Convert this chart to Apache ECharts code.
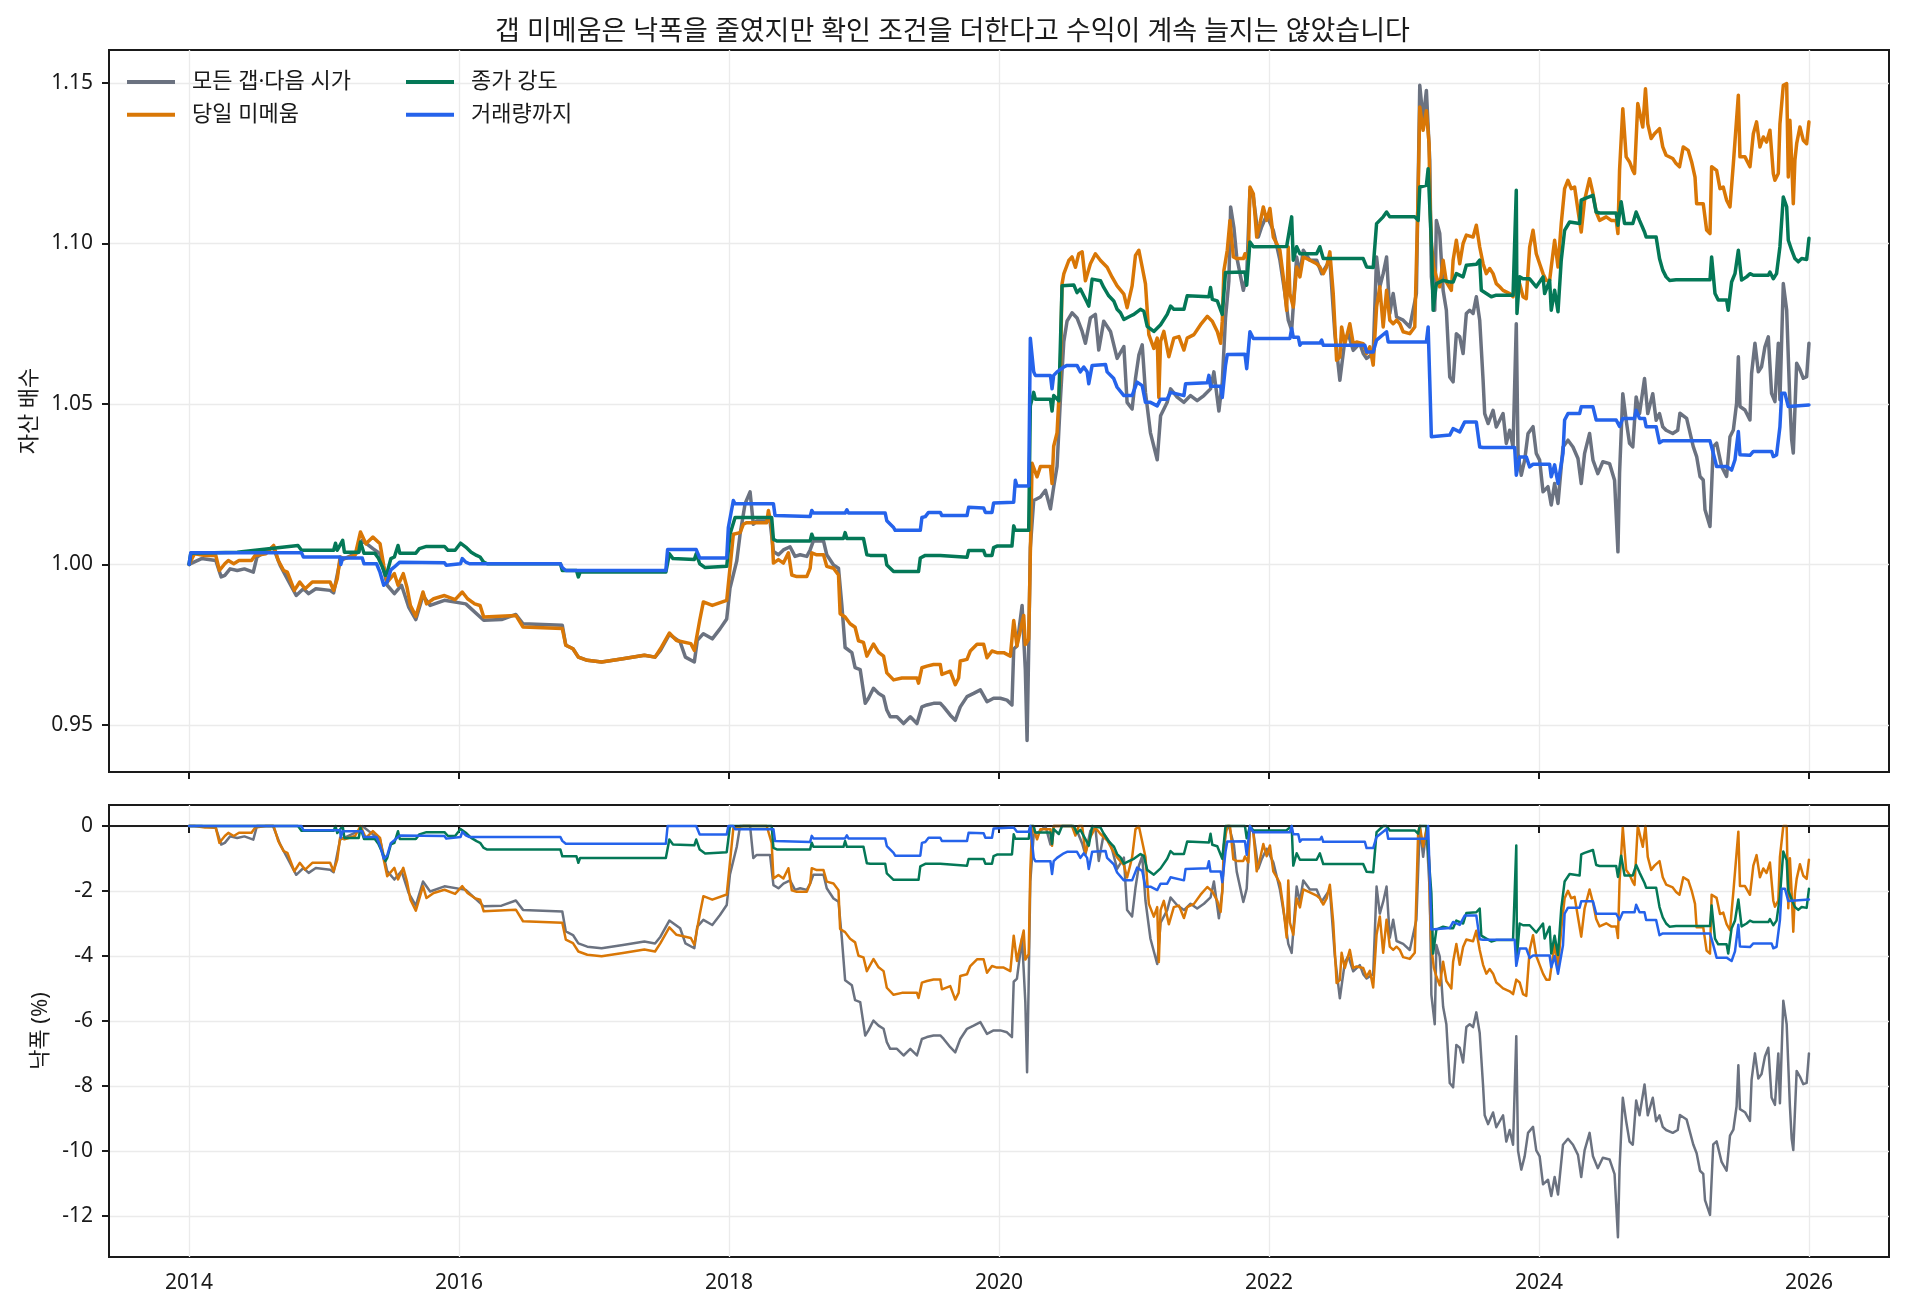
<!DOCTYPE html>
<html>
<head>
<meta charset="utf-8">
<script src="https://cdn.jsdelivr.net/npm/echarts@6/dist/echarts.min.js"></script>
<style>
  html, body { margin: 0; padding: 0; background: #fff; }
  #chart { width: 1905px; height: 1311px; }
</style>
</head>
<body>
<div id="chart"></div>
<script>
// 시리즈 이름
var seriesNames = ['모든 갭·다음 시가', '당일 미메움', '종가 강도', '거래량까지'];
var seriesColors = ['#6b7280', '#d97706', '#047857', '#2563eb'];

// 눈금
var yearTicks = [2014, 2016, 2018, 2020, 2022, 2024, 2026];
var equityTicks = [0.95, 1.00, 1.05, 1.10, 1.15];
var drawdownTicks = [-12, -10, -8, -6, -4, -2, 0];

// 자산 배수 [연도, 값]
var gapAll = [
  [2014.000,1.0000],[2014.093,1.0018],[2014.198,1.0012],[2014.238,0.9961],[2014.265,0.9966],[2014.304,0.9986],[2014.357,0.9981],[2014.410,0.9986],[2014.476,0.9976],[2014.503,1.0023],[2014.622,1.0054],[2014.675,0.9997],[2014.728,0.9955],[2014.794,0.9903],[2014.847,0.9924],[2014.886,0.9909],[2014.939,0.9924],[2015.045,0.9919],[2015.071,0.9911],[2015.119,1.0012],[2015.257,1.0038],[2015.283,1.0075],[2015.362,1.0049],[2015.415,1.0033],[2015.468,0.9935],[2015.521,0.9909],[2015.574,0.9935],[2015.627,0.9867],[2015.680,0.9828],[2015.733,0.9903],[2015.786,0.9872],[2015.892,0.9888],[2016.050,0.9877],[2016.183,0.9826],[2016.315,0.9828],[2016.421,0.9844],[2016.474,0.9815],[2016.765,0.9810],[2016.791,0.9748],[2016.844,0.9737],[2016.884,0.9711],[2016.950,0.9701],[2017.056,0.9696],[2017.214,0.9706],[2017.373,0.9717],[2017.452,0.9711],[2017.492,0.9732],[2017.558,0.9782],[2017.638,0.9758],[2017.677,0.9711],[2017.743,0.9696],[2017.765,0.9763],[2017.810,0.9784],[2017.876,0.9768],[2017.933,0.9799],[2017.983,0.9830],
  [2018.007,0.9925],[2018.057,1.0010],[2018.082,1.0094],[2018.119,1.0189],[2018.156,1.0226],[2018.180,1.0125],[2018.205,1.0135],[2018.304,1.0135],[2018.329,1.0040],[2018.366,1.0030],[2018.403,1.0045],[2018.452,1.0055],[2018.489,1.0025],[2018.527,1.0030],[2018.576,1.0025],[2018.601,1.0045],[2018.625,1.0073],[2018.700,1.0073],[2018.724,1.0030],[2018.774,0.9998],[2018.811,0.9988],[2018.836,0.9872],[2018.860,0.9741],[2018.910,0.9725],[2018.934,0.9678],[2018.972,0.9672],[2019.009,0.9567],[2019.033,0.9583],[2019.070,0.9614],[2019.108,0.9598],[2019.145,0.9588],[2019.169,0.9546],[2019.194,0.9525],[2019.244,0.9525],[2019.293,0.9504],[2019.343,0.9525],[2019.392,0.9504],[2019.429,0.9556],[2019.466,0.9562],[2019.515,0.9567],[2019.565,0.9567],[2019.590,0.9556],[2019.639,0.9530],[2019.676,0.9514],[2019.713,0.9556],[2019.763,0.9588],[2019.812,0.9598],[2019.862,0.9609],[2019.911,0.9572],[2019.960,0.9583],[2020.010,0.9583],[2020.059,0.9577],[2020.096,0.9562],[2020.109,0.9736],[2020.133,0.9746],[2020.171,0.9872],[2020.195,0.9672],[2020.208,0.9451],[2020.220,0.9736],[2020.232,1.0052],[2020.257,1.0199],[2020.307,1.0210],[2020.344,1.0231],[2020.381,1.0173],[2020.405,1.0241],[2020.430,1.0305],[2020.455,1.0515],[2020.480,1.0694],[2020.504,1.0758],[2020.541,1.0784],[2020.578,1.0768],[2020.616,1.0726],[2020.640,1.0689],[2020.677,1.0768],[2020.714,1.0779],[2020.739,1.0668],[2020.776,1.0758],[2020.826,1.0726],[2020.875,1.0642],[2020.925,1.0679],[2020.949,1.0505],[2020.986,1.0484],[2021.011,1.0579],[2021.036,1.0652],[2021.061,1.0684],[2021.085,1.0536],[2021.122,1.0410],[2021.172,1.0326],[2021.197,1.0463],[2021.246,1.0505],[2021.271,1.0547],[2021.320,1.0521],[2021.370,1.0505],[2021.419,1.0526],[2021.468,1.0510],[2021.518,1.0526],[2021.567,1.0547],[2021.592,1.0600],[2021.629,1.0478],[2021.654,1.0568],[2021.678,1.0768],[2021.703,1.0884],
  [2021.716,1.1114],[2021.740,1.1050],[2021.761,1.0958],[2021.810,1.0854],[2021.835,1.0900],[2021.859,1.1166],[2021.884,1.1145],[2021.921,1.1020],[2021.946,1.1052],[2021.983,1.1088],[2022.032,1.1041],[2022.081,1.0948],[2022.118,1.0844],[2022.143,1.0761],[2022.168,1.0730],[2022.205,1.0958],[2022.229,1.0906],[2022.254,1.0979],[2022.303,1.0948],[2022.353,1.0948],[2022.390,1.0906],[2022.451,1.0948],[2022.488,1.0719],[2022.525,1.0574],[2022.562,1.0698],[2022.587,1.0719],[2022.624,1.0667],[2022.673,1.0688],[2022.698,1.0657],[2022.723,1.0642],[2022.772,1.0657],[2022.797,1.0958],[2022.821,1.0865],[2022.846,1.0906],[2022.871,1.0958],[2022.895,1.0782],[2022.920,1.0844],[2022.945,1.0771],[2022.994,1.0761],[2023.043,1.0740],[2023.092,1.0844],[2023.117,1.1493],[2023.142,1.1384],[2023.166,1.1477],[2023.191,1.1259],[2023.203,1.0896],[2023.228,1.0792],[2023.240,1.1072],[2023.265,1.1031],[2023.290,1.0854],[2023.314,1.0792],[2023.339,1.0584],[2023.364,1.0569],[2023.388,1.0719],[2023.413,1.0709],[2023.438,1.0657],[2023.462,1.0782],[2023.487,1.0792],[2023.512,1.0782],[2023.536,1.0834],[2023.561,1.0761],[2023.586,1.0574],[2023.598,1.0470],[2023.623,1.0439],[2023.660,1.0480],[2023.684,1.0428],[2023.709,1.0449],[2023.734,1.0470],[2023.758,1.0377],[2023.783,1.0418],[2023.808,1.0366],[2023.832,1.0750],[2023.845,1.0345],[2023.869,1.0278],[2023.894,1.0325],[2023.919,1.0408],[2023.956,1.0429],[2023.980,1.0346],[2024.005,1.0325],[2024.030,1.0226],[2024.067,1.0242],[2024.091,1.0185],[2024.116,1.0252],[2024.141,1.0190],[2024.178,1.0366],[2024.215,1.0387],[2024.252,1.0366],[2024.289,1.0330],[2024.313,1.0252],[2024.338,1.0346],[2024.375,1.0408],[2024.400,1.0325],[2024.436,1.0283],[2024.473,1.0320],[2024.523,1.0314],[2024.560,1.0262],[2024.585,1.0039],[2024.597,1.0283],[2024.621,1.0532],[2024.646,1.0449],[2024.671,1.0377],[2024.695,1.0366],[2024.720,1.0522],[2024.745,1.0470],[2024.782,1.0579],[2024.806,1.0470],[2024.843,1.0532],[2024.868,1.0449],[2024.893,1.0470],[2024.917,1.0429],[2024.942,1.0418],[2024.991,1.0408],[2025.028,1.0418],
  [2025.044,1.0471],[2025.094,1.0455],[2025.143,1.0367],[2025.168,1.0336],[2025.193,1.0274],[2025.217,1.0263],[2025.230,1.0170],[2025.267,1.0118],[2025.291,1.0367],[2025.316,1.0378],[2025.353,1.0305],[2025.390,1.0274],[2025.415,1.0398],[2025.440,1.0419],[2025.464,1.0502],[2025.477,1.0647],[2025.489,1.0492],[2025.526,1.0481],[2025.563,1.0450],[2025.575,1.0595],[2025.600,1.0689],[2025.625,1.0600],[2025.649,1.0616],[2025.674,1.0678],[2025.699,1.0709],[2025.723,1.0533],[2025.748,1.0507],[2025.773,1.0689],[2025.785,1.0513],[2025.810,1.0875],[2025.835,1.0792],[2025.859,1.0502],[2025.872,1.0388],[2025.884,1.0347],[2025.909,1.0627],[2025.933,1.0607],[2025.958,1.0580],[2025.983,1.0585],[2026.000,1.0689]
];

var sameDay = [
  [2014.000,1.0000],[2014.040,1.0033],[2014.119,1.0028],[2014.198,1.0028],[2014.225,0.9981],[2014.265,1.0002],[2014.291,1.0012],[2014.331,1.0002],[2014.370,1.0012],[2014.463,1.0012],[2014.489,1.0028],[2014.569,1.0033],[2014.627,1.0059],[2014.661,1.0012],[2014.701,0.9981],[2014.728,0.9976],[2014.780,0.9919],[2014.820,0.9945],[2014.860,0.9924],[2014.913,0.9945],[2015.045,0.9945],[2015.071,0.9919],[2015.098,0.9955],[2015.119,1.0023],[2015.151,1.0018],[2015.230,1.0028],[2015.270,1.0101],[2015.310,1.0064],[2015.362,1.0085],[2015.415,1.0064],[2015.442,0.9997],[2015.468,0.9945],[2015.521,0.9971],[2015.548,0.9935],[2015.587,0.9971],[2015.614,0.9929],[2015.640,0.9872],[2015.680,0.9838],[2015.733,0.9914],[2015.759,0.9877],[2015.812,0.9893],[2015.892,0.9903],[2015.971,0.9890],[2016.024,0.9914],[2016.063,0.9893],[2016.116,0.9877],[2016.156,0.9872],[2016.183,0.9836],[2016.421,0.9841],[2016.474,0.9805],[2016.765,0.9800],[2016.791,0.9748],[2016.844,0.9737],[2016.884,0.9711],[2016.950,0.9701],[2017.056,0.9696],[2017.214,0.9706],[2017.373,0.9717],[2017.452,0.9711],[2017.492,0.9737],[2017.558,0.9786],[2017.611,0.9763],[2017.717,0.9753],[2017.743,0.9732],[2017.783,0.9826],[2017.810,0.9883],[2017.876,0.9872],[2017.983,0.9888],
  [2018.007,0.9988],[2018.032,1.0094],[2018.082,1.0099],[2018.106,1.0125],[2018.131,1.0130],[2018.279,1.0130],[2018.292,1.0168],[2018.316,1.0115],[2018.329,1.0004],[2018.366,1.0015],[2018.403,1.0004],[2018.440,1.0036],[2018.465,0.9967],[2018.502,0.9962],[2018.576,0.9962],[2018.601,0.9988],[2018.613,1.0036],[2018.650,1.0030],[2018.700,1.0030],[2018.724,0.9994],[2018.774,0.9988],[2018.811,0.9967],[2018.823,0.9846],[2018.860,0.9836],[2018.897,0.9815],[2018.934,0.9804],[2018.959,0.9762],[2018.996,0.9757],[2019.021,0.9714],[2019.070,0.9752],[2019.108,0.9726],[2019.145,0.9714],[2019.169,0.9662],[2019.219,0.9640],[2019.281,0.9646],[2019.392,0.9646],[2019.404,0.9630],[2019.429,0.9678],[2019.466,0.9683],[2019.515,0.9688],[2019.565,0.9688],[2019.577,0.9657],[2019.639,0.9667],[2019.676,0.9625],[2019.701,0.9646],[2019.713,0.9699],[2019.763,0.9704],[2019.787,0.9730],[2019.837,0.9751],[2019.886,0.9751],[2019.911,0.9709],[2019.948,0.9730],[2019.985,0.9725],[2020.035,0.9725],[2020.084,0.9714],[2020.109,0.9825],[2020.133,0.9746],[2020.158,0.9794],[2020.183,0.9841],[2020.195,0.9750],[2020.220,0.9767],[2020.232,1.0030],[2020.245,1.0315],[2020.282,1.0273],[2020.307,1.0305],[2020.381,1.0305],[2020.393,1.0252],[2020.405,1.0368],[2020.430,1.0410],[2020.455,1.0610],[2020.467,1.0874],[2020.480,1.0905],[2020.517,1.0947],[2020.541,1.0958],[2020.566,1.0926],[2020.591,1.0968],[2020.616,1.0974],[2020.640,1.0884],[2020.677,1.0937],[2020.714,1.0968],[2020.752,1.0947],[2020.801,1.0926],[2020.838,1.0895],[2020.875,1.0868],[2020.925,1.0842],[2020.949,1.0800],[2020.986,1.0868],[2021.011,1.0963],[2021.036,1.0979],[2021.061,1.0926],[2021.085,1.0874],[2021.110,1.0716],[2021.147,1.0673],[2021.172,1.0705],[2021.184,1.0520],[2021.197,1.0695],[2021.221,1.0726],[2021.258,1.0647],[2021.295,1.0705],[2021.333,1.0710],[2021.370,1.0668],[2021.394,1.0705],[2021.444,1.0716],[2021.493,1.0747],[2021.543,1.0773],[2021.580,1.0758],[2021.617,1.0726],[2021.642,1.0689],[2021.654,1.0758],[2021.666,1.0916],[2021.691,1.0979],
  [2021.711,1.1072],[2021.736,1.0958],[2021.761,1.0953],[2021.810,1.0953],[2021.822,1.0968],[2021.847,1.0948],[2021.859,1.1176],[2021.884,1.1155],[2021.909,1.1020],[2021.933,1.1062],[2021.958,1.1114],[2021.983,1.1072],[2022.007,1.1109],[2022.032,1.1020],[2022.057,1.1000],[2022.081,1.0979],[2022.106,1.0896],[2022.131,1.0792],[2022.143,1.0989],[2022.155,1.0844],[2022.180,1.0802],[2022.205,1.0927],[2022.229,1.0896],[2022.254,1.0958],[2022.303,1.0948],[2022.353,1.0937],[2022.377,1.0927],[2022.402,1.0906],[2022.427,1.0927],[2022.451,1.0974],[2022.476,1.0844],[2022.501,1.0636],[2022.525,1.0646],[2022.538,1.0740],[2022.562,1.0688],[2022.599,1.0750],[2022.624,1.0688],[2022.649,1.0693],[2022.698,1.0688],[2022.723,1.0657],[2022.747,1.0678],[2022.772,1.0621],[2022.797,1.0802],[2022.821,1.0865],[2022.846,1.0740],[2022.871,1.0854],[2022.895,1.0761],[2022.920,1.0750],[2022.945,1.0761],[2022.969,1.0750],[2022.994,1.0725],[2023.043,1.0719],[2023.080,1.0740],[2023.105,1.1155],[2023.117,1.1425],[2023.142,1.1353],[2023.166,1.1414],[2023.186,1.1311],[2023.191,1.1155],[2023.203,1.1000],[2023.221,1.0927],[2023.240,1.0896],[2023.265,1.0865],[2023.290,1.0948],[2023.314,1.0880],[2023.351,1.0854],[2023.364,1.0948],[2023.388,1.1010],[2023.413,1.0937],[2023.438,1.1000],[2023.462,1.1026],[2023.512,1.1020],[2023.536,1.1057],[2023.561,1.0989],[2023.586,1.0937],[2023.610,1.0906],[2023.635,1.0922],[2023.660,1.0906],[2023.684,1.0875],[2023.709,1.0865],[2023.734,1.0854],[2023.783,1.0844],[2023.808,1.0834],[2023.832,1.0885],[2023.857,1.0875],[2023.882,1.0834],[2023.906,1.0828],[2023.931,1.0989],[2023.956,1.1041],[2023.980,1.0968],[2024.005,1.0937],[2024.030,1.0906],[2024.054,1.0885],[2024.079,1.0885],[2024.091,1.0927],[2024.116,1.1010],[2024.141,1.0927],[2024.165,1.1062],[2024.190,1.1171],[2024.215,1.1197],[2024.239,1.1171],[2024.264,1.1176],[2024.289,1.1104],[2024.313,1.1036],[2024.338,1.1135],[2024.375,1.1202],[2024.400,1.1156],[2024.424,1.1098],[2024.449,1.1072],[2024.498,1.1083],[2024.535,1.1072],[2024.572,1.1072],[2024.585,1.1031],[2024.597,1.1228],[2024.621,1.1420],[2024.646,1.1270],[2024.671,1.1254],[2024.695,1.1228],[2024.708,1.1218],[2024.732,1.1436],[2024.769,1.1363],[2024.789,1.1482],[2024.806,1.1373],[2024.831,1.1327],[2024.856,1.1342],[2024.893,1.1358],[2024.917,1.1301],[2024.942,1.1275],[2024.991,1.1265],[2025.016,1.1249],[2025.041,1.1239],
  [2025.069,1.1301],[2025.106,1.1290],[2025.131,1.1254],[2025.156,1.1207],[2025.168,1.1124],[2025.217,1.1124],[2025.242,1.1042],[2025.267,1.1031],[2025.279,1.1239],[2025.316,1.1228],[2025.341,1.1171],[2025.365,1.1176],[2025.390,1.1135],[2025.415,1.1114],[2025.440,1.1249],[2025.477,1.1462],[2025.489,1.1270],[2025.526,1.1270],[2025.538,1.1275],[2025.563,1.1239],[2025.588,1.1342],[2025.612,1.1379],[2025.637,1.1301],[2025.662,1.1332],[2025.686,1.1316],[2025.711,1.1353],[2025.736,1.1218],[2025.748,1.1197],[2025.773,1.1218],[2025.785,1.1373],[2025.810,1.1493],[2025.835,1.1498],[2025.847,1.1207],[2025.859,1.1384],[2025.872,1.1259],[2025.884,1.1124],[2025.896,1.1259],[2025.909,1.1311],[2025.933,1.1363],[2025.958,1.1322],[2025.983,1.1311],[2026.000,1.1379]
];

var closeStrength = [
  [2014.000,1.0000],[2014.013,1.0035],[2014.357,1.0038],[2014.807,1.0059],[2014.833,1.0044],[2015.071,1.0044],[2015.085,1.0066],[2015.098,1.0044],[2015.138,1.0075],[2015.151,1.0038],[2015.257,1.0038],[2015.270,1.0070],[2015.296,1.0035],[2015.376,1.0035],[2015.402,1.0020],[2015.429,0.9995],[2015.455,0.9966],[2015.468,0.9976],[2015.495,1.0018],[2015.521,1.0023],[2015.548,1.0059],[2015.561,1.0035],[2015.680,1.0035],[2015.706,1.0049],[2015.759,1.0056],[2015.892,1.0056],[2015.918,1.0044],[2015.971,1.0044],[2016.011,1.0066],[2016.050,1.0054],[2016.090,1.0038],[2016.130,1.0028],[2016.156,1.0023],[2016.183,1.0007],[2016.209,1.0002],[2016.751,1.0002],[2016.765,0.9981],[2016.870,0.9981],[2016.884,0.9961],[2016.897,0.9976],[2017.532,0.9976],[2017.558,1.0033],[2017.585,1.0018],[2017.743,1.0015],[2017.757,1.0033],[2017.783,1.0002],[2017.823,0.9990],[2017.983,0.9994],
  [2018.007,1.0094],[2018.045,1.0146],[2018.316,1.0146],[2018.329,1.0078],[2018.354,1.0073],[2018.601,1.0073],[2018.613,1.0094],[2018.625,1.0081],[2018.848,1.0081],[2018.860,1.0099],[2018.873,1.0081],[2018.996,1.0081],[2019.021,1.0030],[2019.046,1.0028],[2019.157,1.0028],[2019.169,0.9998],[2019.219,0.9978],[2019.404,0.9978],[2019.417,1.0020],[2019.454,1.0028],[2019.565,1.0028],[2019.577,1.0022],[2019.763,1.0022],[2019.775,1.0043],[2019.886,1.0043],[2019.899,1.0028],[2019.948,1.0028],[2019.960,1.0052],[2019.985,1.0057],[2020.096,1.0057],[2020.109,1.0120],[2020.121,1.0106],[2020.220,1.0106],[2020.232,1.0494],[2020.257,1.0536],[2020.269,1.0515],[2020.381,1.0515],[2020.393,1.0478],[2020.405,1.0526],[2020.443,1.0510],[2020.455,1.0510],[2020.467,1.0868],[2020.554,1.0871],[2020.578,1.0847],[2020.603,1.0858],[2020.628,1.0837],[2020.653,1.0816],[2020.665,1.0805],[2020.690,1.0889],[2020.752,1.0884],[2020.776,1.0863],[2020.813,1.0837],[2020.850,1.0821],[2020.875,1.0795],[2020.900,1.0784],[2020.925,1.0763],[2020.974,1.0774],[2020.999,1.0779],[2021.048,1.0795],[2021.073,1.0789],[2021.098,1.0742],[2021.147,1.0726],[2021.197,1.0747],[2021.246,1.0779],[2021.271,1.0805],[2021.295,1.0795],[2021.370,1.0795],[2021.394,1.0837],[2021.555,1.0834],[2021.567,1.0863],[2021.580,1.0826],[2021.617,1.0821],[2021.654,1.0779],[2021.678,1.0910],
  [2021.822,1.0911],[2021.835,1.0870],[2021.859,1.1005],[2021.884,1.0990],[2022.131,1.0991],[2022.168,1.1083],[2022.180,1.0948],[2022.205,1.0990],[2022.229,1.0968],[2022.353,1.0968],[2022.377,1.0990],[2022.402,1.0953],[2022.698,1.0953],[2022.723,1.0927],[2022.772,1.0925],[2022.797,1.1062],[2022.846,1.1083],[2022.871,1.1098],[2022.895,1.1083],[2023.080,1.1083],[2023.105,1.1072],[2023.117,1.1176],[2023.166,1.1181],[2023.179,1.1233],[2023.203,1.1000],[2023.216,1.0792],[2023.240,1.0875],[2023.290,1.0885],[2023.339,1.0880],[2023.364,1.0880],[2023.388,1.0906],[2023.438,1.0896],[2023.462,1.0932],[2023.536,1.0935],[2023.561,1.0948],[2023.573,1.0854],[2023.610,1.0844],[2023.647,1.0834],[2023.684,1.0839],[2023.808,1.0839],[2023.832,1.1166],[2023.837,1.0782],[2023.857,1.0896],[2023.882,1.0890],[2023.931,1.0890],[2023.980,1.0865],[2024.030,1.0896],[2024.042,1.0844],[2024.079,1.0885],[2024.091,1.0792],[2024.116,1.0854],[2024.141,1.0787],[2024.165,1.0948],[2024.190,1.1041],[2024.227,1.1067],[2024.301,1.1062],[2024.313,1.1135],[2024.338,1.1140],[2024.400,1.1150],[2024.424,1.1098],[2024.449,1.1095],[2024.572,1.1095],[2024.585,1.1057],[2024.609,1.1130],[2024.634,1.1062],[2024.695,1.1062],[2024.720,1.1098],[2024.745,1.1072],[2024.782,1.1036],[2024.794,1.1020],[2024.868,1.1020],[2024.893,1.0953],[2024.917,1.0917],[2024.942,1.0896],[2024.967,1.0885],[2025.016,1.0887],
  [2025.267,1.0887],[2025.279,1.0958],[2025.304,1.0844],[2025.328,1.0824],[2025.390,1.0824],[2025.402,1.0792],[2025.427,1.0880],[2025.452,1.0906],[2025.477,1.0979],[2025.501,1.0886],[2025.538,1.0896],[2025.563,1.0906],[2025.588,1.0901],[2025.699,1.0901],[2025.711,1.0911],[2025.736,1.0890],[2025.760,1.0906],[2025.785,1.0990],[2025.810,1.1145],[2025.835,1.1114],[2025.847,1.1010],[2025.872,1.0979],[2025.896,1.0953],[2025.921,1.0943],[2025.946,1.0953],[2025.983,1.0950],[2026.000,1.1016]
];

var withVolume = [
  [2014.000,1.0000],[2014.013,1.0036],[2014.833,1.0036],[2014.847,1.0023],[2015.119,1.0023],[2015.124,1.0000],[2015.138,1.0020],[2015.283,1.0020],[2015.296,1.0002],[2015.389,1.0002],[2015.415,0.9975],[2015.442,0.9935],[2015.468,0.9945],[2015.495,0.9983],[2015.521,0.9992],[2015.561,1.0007],[2015.574,1.0005],[2015.892,1.0005],[2015.905,0.9997],[2016.011,1.0002],[2016.024,1.0018],[2016.050,1.0007],[2016.077,1.0002],[2016.751,1.0002],[2016.765,0.9990],[2016.791,0.9981],[2017.532,0.9981],[2017.545,1.0046],[2017.757,1.0046],[2017.783,1.0020],[2017.796,1.0015],[2017.983,1.0020],
  [2017.995,1.0115],[2018.032,1.0199],[2018.045,1.0189],[2018.329,1.0189],[2018.341,1.0152],[2018.354,1.0149],[2018.601,1.0149],[2018.613,1.0168],[2018.625,1.0160],[2018.860,1.0160],[2018.873,1.0170],[2018.885,1.0160],[2019.157,1.0160],[2019.169,1.0136],[2019.219,1.0115],[2019.231,1.0106],[2019.417,1.0106],[2019.429,1.0146],[2019.454,1.0149],[2019.478,1.0162],[2019.565,1.0162],[2019.577,1.0152],[2019.763,1.0152],[2019.775,1.0178],[2019.886,1.0176],[2019.899,1.0162],[2019.948,1.0162],[2019.960,1.0191],[2019.973,1.0194],[2020.109,1.0194],[2020.121,1.0262],[2020.133,1.0244],[2020.220,1.0244],[2020.232,1.0705],[2020.257,1.0600],[2020.269,1.0589],[2020.381,1.0589],[2020.393,1.0547],[2020.405,1.0589],[2020.430,1.0600],[2020.480,1.0615],[2020.504,1.0620],[2020.578,1.0620],[2020.603,1.0600],[2020.628,1.0615],[2020.653,1.0600],[2020.665,1.0563],[2020.690,1.0620],[2020.789,1.0623],[2020.801,1.0600],[2020.850,1.0579],[2020.875,1.0552],[2020.925,1.0526],[2020.986,1.0526],[2021.023,1.0568],[2021.061,1.0557],[2021.085,1.0505],[2021.122,1.0505],[2021.172,1.0494],[2021.197,1.0515],[2021.246,1.0515],[2021.271,1.0536],[2021.370,1.0526],[2021.382,1.0563],[2021.543,1.0566],[2021.555,1.0589],[2021.567,1.0555],[2021.642,1.0555],[2021.654,1.0520],[2021.678,1.0620],[2021.691,1.0654],
  [2021.822,1.0655],[2021.835,1.0610],[2021.847,1.0610],[2021.859,1.0725],[2021.884,1.0704],[2022.155,1.0704],[2022.168,1.0735],[2022.180,1.0708],[2022.217,1.0708],[2022.229,1.0683],[2022.242,1.0690],[2022.377,1.0690],[2022.390,1.0699],[2022.402,1.0683],[2022.710,1.0683],[2022.723,1.0662],[2022.772,1.0662],[2022.797,1.0699],[2022.871,1.0725],[2022.883,1.0693],[2023.166,1.0693],[2023.179,1.0740],[2023.191,1.0574],[2023.203,1.0398],[2023.216,1.0403],[2023.339,1.0403],[2023.364,1.0423],[2023.413,1.0413],[2023.450,1.0444],[2023.536,1.0444],[2023.561,1.0366],[2023.586,1.0364],[2023.820,1.0364],[2023.832,1.0278],[2023.857,1.0335],[2023.906,1.0335],[2023.931,1.0304],[2023.956,1.0312],[2024.079,1.0312],[2024.091,1.0273],[2024.116,1.0310],[2024.141,1.0252],[2024.178,1.0346],[2024.190,1.0450],[2024.215,1.0470],[2024.301,1.0470],[2024.313,1.0491],[2024.400,1.0491],[2024.424,1.0450],[2024.572,1.0450],[2024.597,1.0430],[2024.621,1.0455],[2024.708,1.0455],[2024.720,1.0480],[2024.745,1.0455],[2024.782,1.0455],[2024.794,1.0429],[2024.868,1.0429],[2024.893,1.0379],[2024.917,1.0385],
  [2025.267,1.0385],[2025.291,1.0347],[2025.316,1.0305],[2025.390,1.0305],[2025.427,1.0294],[2025.452,1.0326],[2025.477,1.0414],[2025.489,1.0342],[2025.563,1.0340],[2025.588,1.0352],[2025.723,1.0352],[2025.736,1.0336],[2025.760,1.0341],[2025.785,1.0429],[2025.798,1.0533],[2025.822,1.0533],[2025.847,1.0492],[2026.000,1.0497]
];

var equitySeries = [gapAll, sameDay, closeStrength, withVolume];

// 낙폭(%) = 자산 / 누적 최고치 - 1
function toDrawdown(points) {
  var peak = -Infinity;
  return points.map(function (p) {
    peak = Math.max(peak, p[1]);
    return [p[0], (p[1] / peak - 1) * 100];
  });
}

var FONT = "'Noto Sans', 'Noto Sans CJK KR', sans-serif";
var INK = '#1a1a1a';
var GRIDLINE = '#ebebeb';
var X_MIN = 2013.407, X_MAX = 2026.593;

function xAxisFor(gridIndex, showLabels) {
  return {
    type: 'value', gridIndex: gridIndex, min: X_MIN, max: X_MAX,
    axisLine: { show: true, lineStyle: { color: INK, width: 2 } },
    axisTick: { show: true, customValues: yearTicks, length: 7, lineStyle: { color: INK, width: 2 } },
    axisLabel: { show: showLabels, customValues: yearTicks, margin: 16, fontSize: 21, color: INK, fontFamily: FONT,
      formatter: function (v) { return String(Math.round(v)); } },
    splitLine: { show: true, lineStyle: { color: GRIDLINE, width: 1.3 } }
  };
}

var series = [];
equitySeries.forEach(function (pts, i) {
  series.push({
    name: seriesNames[i], type: 'line', xAxisIndex: 0, yAxisIndex: 0,
    data: pts, showSymbol: false, symbol: 'none',
    lineStyle: { color: seriesColors[i], width: 3.5, cap: 'round', join: 'round' },
    itemStyle: { color: seriesColors[i] },
    z: 2 + i
  });
});
equitySeries.forEach(function (pts, i) {
  var s = {
    name: seriesNames[i], type: 'line', xAxisIndex: 1, yAxisIndex: 1,
    data: toDrawdown(pts), showSymbol: false, symbol: 'none',
    lineStyle: { color: seriesColors[i], width: 2.5, cap: 'round', join: 'round' },
    itemStyle: { color: seriesColors[i] },
    z: 2 + i
  };
  if (i === 3) {
    s.markLine = {
      silent: true, symbol: 'none', label: { show: false },
      lineStyle: { color: '#222', width: 1.6, type: 'solid' },
      data: [{ yAxis: 0 }]
    };
  }
  series.push(s);
});

var legendBase = {
  orient: 'vertical', top: 71, padding: 0,
  itemWidth: 48, itemHeight: 4, itemGap: 10.7, icon: 'rect',
  textStyle: { fontSize: 22, lineHeight: 22, color: INK, fontFamily: FONT, padding: [0, 0, 0, 12] }
};

var chart = echarts.init(document.getElementById('chart'));
chart.setOption({
  animation: false,
  backgroundColor: '#fff',
  textStyle: { fontFamily: FONT },
  title: {
    text: '갭 미메움은 낙폭을 줄였지만 확인 조건을 더한다고 수익이 계속 늘지는 않았습니다',
    left: 'center', top: 14,
    textStyle: { fontSize: 27, fontWeight: 'normal', color: INK, fontFamily: FONT }
  },
  legend: [
    Object.assign({}, legendBase, { left: 127, data: [seriesNames[0], seriesNames[1]] }),
    Object.assign({}, legendBase, { left: 406, data: [seriesNames[2], seriesNames[3]] })
  ],
  grid: [
    { left: 109, top: 50, width: 1780, height: 722, show: true, borderColor: INK, borderWidth: 2, backgroundColor: 'transparent' },
    { left: 109, top: 805, width: 1780, height: 452, show: true, borderColor: INK, borderWidth: 2, backgroundColor: 'transparent' }
  ],
  xAxis: [xAxisFor(0, false), xAxisFor(1, true)],
  yAxis: [
    {
      type: 'value', gridIndex: 0, min: 0.9353, max: 1.1603,
      name: '자산 배수', nameLocation: 'middle', nameGap: 68,
      nameTextStyle: { fontSize: 22, color: INK, fontFamily: FONT },
      axisLine: { show: true, lineStyle: { color: INK, width: 2 } },
      axisTick: { show: true, customValues: equityTicks, length: 7, lineStyle: { color: INK, width: 2 } },
      axisLabel: { customValues: equityTicks, margin: 16, fontSize: 21, color: INK, fontFamily: FONT,
        formatter: function (v) { return v.toFixed(2); } },
      splitLine: { show: true, lineStyle: { color: GRIDLINE, width: 1.3 } }
    },
    {
      type: 'value', gridIndex: 1, min: -13.26, max: 0.646,
      name: '낙폭 (%)', nameLocation: 'middle', nameGap: 53,
      nameTextStyle: { fontSize: 22, color: INK, fontFamily: FONT },
      axisLine: { show: true, lineStyle: { color: INK, width: 2 } },
      axisTick: { show: true, customValues: drawdownTicks, length: 7, lineStyle: { color: INK, width: 2 } },
      axisLabel: { customValues: drawdownTicks, margin: 16, fontSize: 21, color: INK, fontFamily: FONT,
        formatter: function (v) { return String(Math.round(v)); } },
      splitLine: { show: true, lineStyle: { color: GRIDLINE, width: 1.3 } }
    }
  ],
  series: series
});
</script>
</body>
</html>
